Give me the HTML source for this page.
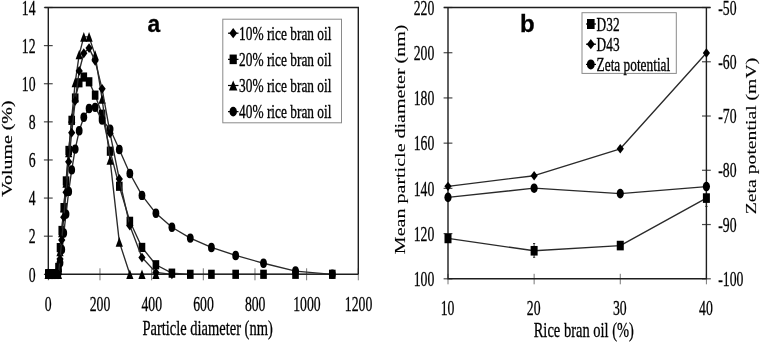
<!DOCTYPE html>
<html><head><meta charset="utf-8"><style>
html,body{margin:0;padding:0;background:#fff;width:761px;height:342px;overflow:hidden}
svg{display:block;will-change:transform;filter:blur(0.35px)}
</style></head><body>
<svg width="761" height="342" viewBox="0 0 761 342">
<rect width="761" height="342" fill="#fff"/>
<path d="M43.90,274.30H52.70" stroke="#4a4a4a" stroke-width="1.2"/>
<path d="M43.90,236.19H52.70" stroke="#4a4a4a" stroke-width="1.2"/>
<path d="M43.90,198.07H52.70" stroke="#4a4a4a" stroke-width="1.2"/>
<path d="M43.90,159.96H52.70" stroke="#4a4a4a" stroke-width="1.2"/>
<path d="M43.90,121.84H52.70" stroke="#4a4a4a" stroke-width="1.2"/>
<path d="M43.90,83.73H52.70" stroke="#4a4a4a" stroke-width="1.2"/>
<path d="M43.90,45.61H52.70" stroke="#4a4a4a" stroke-width="1.2"/>
<path d="M43.90,7.50H52.70" stroke="#4a4a4a" stroke-width="1.2"/>
<path d="M48.30,268.30V280.30" stroke="#777" stroke-width="1"/>
<path d="M99.97,268.30V280.30" stroke="#777" stroke-width="1"/>
<path d="M151.63,268.30V280.30" stroke="#777" stroke-width="1"/>
<path d="M203.30,268.30V280.30" stroke="#777" stroke-width="1"/>
<path d="M254.97,268.30V280.30" stroke="#777" stroke-width="1"/>
<path d="M306.63,268.30V280.30" stroke="#777" stroke-width="1"/>
<path d="M358.30,268.30V280.30" stroke="#777" stroke-width="1"/>
<path d="M443.60,278.80H452.40" stroke="#4a4a4a" stroke-width="1.2"/>
<path d="M443.60,233.58H452.40" stroke="#4a4a4a" stroke-width="1.2"/>
<path d="M443.60,188.37H452.40" stroke="#4a4a4a" stroke-width="1.2"/>
<path d="M443.60,143.15H452.40" stroke="#4a4a4a" stroke-width="1.2"/>
<path d="M443.60,97.93H452.40" stroke="#4a4a4a" stroke-width="1.2"/>
<path d="M443.60,52.72H452.40" stroke="#4a4a4a" stroke-width="1.2"/>
<path d="M443.60,7.50H452.40" stroke="#4a4a4a" stroke-width="1.2"/>
<path d="M702.00,7.50H710.80" stroke="#4a4a4a" stroke-width="1.2"/>
<path d="M702.00,61.76H710.80" stroke="#4a4a4a" stroke-width="1.2"/>
<path d="M702.00,116.02H710.80" stroke="#4a4a4a" stroke-width="1.2"/>
<path d="M702.00,170.28H710.80" stroke="#4a4a4a" stroke-width="1.2"/>
<path d="M702.00,224.54H710.80" stroke="#4a4a4a" stroke-width="1.2"/>
<path d="M702.00,278.80H710.80" stroke="#4a4a4a" stroke-width="1.2"/>
<path d="M448.00,273.80V284.30" stroke="#777" stroke-width="1"/>
<path d="M534.13,273.80V284.30" stroke="#777" stroke-width="1"/>
<path d="M620.27,273.80V284.30" stroke="#777" stroke-width="1"/>
<path d="M706.40,273.80V284.30" stroke="#777" stroke-width="1"/>
<path d="M44.70,7.5H358.3V274.3" fill="none" stroke="#1e1e1e" stroke-width="1.4"/>
<path d="M48.3,7.5V274.3H358.3" fill="none" stroke="#1e1e1e" stroke-width="1.4"/>
<text transform="translate(35.60,281.50) scale(0.67,1)" font-family="Liberation Serif" font-size="20.5" font-weight="400" text-anchor="end" fill="#000" stroke="#000" stroke-width="0.3">0</text>
<text transform="translate(35.60,243.39) scale(0.67,1)" font-family="Liberation Serif" font-size="20.5" font-weight="400" text-anchor="end" fill="#000" stroke="#000" stroke-width="0.3">2</text>
<text transform="translate(35.60,205.27) scale(0.67,1)" font-family="Liberation Serif" font-size="20.5" font-weight="400" text-anchor="end" fill="#000" stroke="#000" stroke-width="0.3">4</text>
<text transform="translate(35.60,167.16) scale(0.67,1)" font-family="Liberation Serif" font-size="20.5" font-weight="400" text-anchor="end" fill="#000" stroke="#000" stroke-width="0.3">6</text>
<text transform="translate(35.60,129.04) scale(0.67,1)" font-family="Liberation Serif" font-size="20.5" font-weight="400" text-anchor="end" fill="#000" stroke="#000" stroke-width="0.3">8</text>
<text transform="translate(35.60,90.93) scale(0.67,1)" font-family="Liberation Serif" font-size="20.5" font-weight="400" text-anchor="end" fill="#000" stroke="#000" stroke-width="0.3">10</text>
<text transform="translate(35.60,52.81) scale(0.67,1)" font-family="Liberation Serif" font-size="20.5" font-weight="400" text-anchor="end" fill="#000" stroke="#000" stroke-width="0.3">12</text>
<text transform="translate(35.60,14.70) scale(0.67,1)" font-family="Liberation Serif" font-size="20.5" font-weight="400" text-anchor="end" fill="#000" stroke="#000" stroke-width="0.3">14</text>
<text transform="translate(48.30,310.80) scale(0.67,1)" font-family="Liberation Serif" font-size="20.5" font-weight="400" text-anchor="middle" fill="#000" stroke="#000" stroke-width="0.3">0</text>
<text transform="translate(100.02,310.80) scale(0.67,1)" font-family="Liberation Serif" font-size="20.5" font-weight="400" text-anchor="middle" fill="#000" stroke="#000" stroke-width="0.3">200</text>
<text transform="translate(151.73,310.80) scale(0.67,1)" font-family="Liberation Serif" font-size="20.5" font-weight="400" text-anchor="middle" fill="#000" stroke="#000" stroke-width="0.3">400</text>
<text transform="translate(203.45,310.80) scale(0.67,1)" font-family="Liberation Serif" font-size="20.5" font-weight="400" text-anchor="middle" fill="#000" stroke="#000" stroke-width="0.3">600</text>
<text transform="translate(255.17,310.80) scale(0.67,1)" font-family="Liberation Serif" font-size="20.5" font-weight="400" text-anchor="middle" fill="#000" stroke="#000" stroke-width="0.3">800</text>
<text transform="translate(306.88,310.80) scale(0.67,1)" font-family="Liberation Serif" font-size="20.5" font-weight="400" text-anchor="middle" fill="#000" stroke="#000" stroke-width="0.3">1000</text>
<text transform="translate(358.60,310.80) scale(0.67,1)" font-family="Liberation Serif" font-size="20.5" font-weight="400" text-anchor="middle" fill="#000" stroke="#000" stroke-width="0.3">1200</text>
<text transform="translate(207.60,335.20) scale(0.707,1)" font-family="Liberation Serif" font-size="20.5" font-weight="400" text-anchor="middle" fill="#000" stroke="#000" stroke-width="0.3">Particle diameter (nm)</text>
<text transform="translate(12.40,148.60) scale(0.78,1) rotate(-90)" font-family="Liberation Serif" font-size="19.9" font-weight="400" text-anchor="middle" fill="#000" stroke="#000" stroke-width="0.25">Volume (%)</text>
<text transform="translate(147.50,31.60) scale(0.95,1)" font-family="Liberation Sans" font-size="24" font-weight="700" text-anchor="start" fill="#000" stroke="#000" stroke-width="0.3">a</text>
<polyline fill="none" stroke="#2a2a2a" stroke-width="1.35" stroke-linejoin="round" points="48.34,274.30 48.36,274.30 48.39,274.30 48.44,274.30 48.51,274.30 48.62,274.30 48.78,274.30 49.03,274.30 49.41,274.30 49.98,274.30 50.85,274.30 51.23,274.30 51.66,274.30 52.16,274.30 52.74,274.30 53.40,274.30 54.16,274.30 55.03,274.30 56.03,274.30 57.17,274.30 58.49,267.44 60.01,247.62 61.75,230.47 63.75,207.60 66.05,180.92 68.69,150.43 71.72,120.32 75.20,98.02 79.20,82.78 83.80,77.06 89.08,81.82 95.14,95.16 102.11,114.22 110.11,151.19 119.30,186.26 129.85,221.32 141.98,247.43 155.91,264.77 171.91,273.16 190.29,274.30 211.41,274.30 235.66,274.30 263.52,274.30 295.52,274.30 332.29,274.30"/><rect x="45.04" y="269.70" width="6.60" height="9.20"/><rect x="45.06" y="269.70" width="6.60" height="9.20"/><rect x="45.09" y="269.70" width="6.60" height="9.20"/><rect x="45.14" y="269.70" width="6.60" height="9.20"/><rect x="45.21" y="269.70" width="6.60" height="9.20"/><rect x="45.32" y="269.70" width="6.60" height="9.20"/><rect x="45.48" y="269.70" width="6.60" height="9.20"/><rect x="45.73" y="269.70" width="6.60" height="9.20"/><rect x="46.11" y="269.70" width="6.60" height="9.20"/><rect x="46.68" y="269.70" width="6.60" height="9.20"/><rect x="47.55" y="269.70" width="6.60" height="9.20"/><rect x="47.93" y="269.70" width="6.60" height="9.20"/><rect x="48.36" y="269.70" width="6.60" height="9.20"/><rect x="48.86" y="269.70" width="6.60" height="9.20"/><rect x="49.44" y="269.70" width="6.60" height="9.20"/><rect x="50.10" y="269.70" width="6.60" height="9.20"/><rect x="50.86" y="269.70" width="6.60" height="9.20"/><rect x="51.73" y="269.70" width="6.60" height="9.20"/><rect x="52.73" y="269.70" width="6.60" height="9.20"/><rect x="53.87" y="269.70" width="6.60" height="9.20"/><rect x="55.19" y="262.84" width="6.60" height="9.20"/><rect x="56.71" y="243.02" width="6.60" height="9.20"/><rect x="58.45" y="225.87" width="6.60" height="9.20"/><rect x="60.45" y="203.00" width="6.60" height="9.20"/><rect x="62.75" y="176.32" width="6.60" height="9.20"/><rect x="65.39" y="145.83" width="6.60" height="9.20"/><rect x="68.42" y="115.72" width="6.60" height="9.20"/><rect x="71.90" y="93.42" width="6.60" height="9.20"/><rect x="75.90" y="78.18" width="6.60" height="9.20"/><rect x="80.50" y="72.46" width="6.60" height="9.20"/><rect x="85.78" y="77.22" width="6.60" height="9.20"/><rect x="91.84" y="90.56" width="6.60" height="9.20"/><rect x="98.81" y="109.62" width="6.60" height="9.20"/><rect x="106.81" y="146.59" width="6.60" height="9.20"/><rect x="116.00" y="181.66" width="6.60" height="9.20"/><rect x="126.55" y="216.72" width="6.60" height="9.20"/><rect x="138.68" y="242.83" width="6.60" height="9.20"/><rect x="152.61" y="260.17" width="6.60" height="9.20"/><rect x="168.61" y="268.56" width="6.60" height="9.20"/><rect x="186.99" y="269.70" width="6.60" height="9.20"/><rect x="208.11" y="269.70" width="6.60" height="9.20"/><rect x="232.36" y="269.70" width="6.60" height="9.20"/><rect x="260.22" y="269.70" width="6.60" height="9.20"/><rect x="292.22" y="269.70" width="6.60" height="9.20"/><rect x="328.99" y="269.70" width="6.60" height="9.20"/>
<polyline fill="none" stroke="#2a2a2a" stroke-width="1.35" stroke-linejoin="round" points="48.34,274.30 48.36,274.30 48.39,274.30 48.44,274.30 48.51,274.30 48.62,274.30 48.78,274.30 49.03,274.30 49.41,274.30 49.98,274.30 50.85,274.30 51.23,274.30 51.66,274.30 52.16,274.30 52.74,274.30 53.40,274.30 54.16,274.30 55.03,274.30 56.03,274.30 57.17,274.30 58.49,274.30 60.01,251.43 61.75,232.37 63.75,207.60 66.05,182.83 68.69,152.33 71.72,118.03 75.20,82.39 79.20,54.57 83.80,36.85 89.08,36.85 95.14,55.14 102.11,98.97 110.11,159.96 119.30,241.90 129.85,274.30 141.98,274.30 155.91,274.30"/><polygon points="48.34,269.50 51.94,279.10 44.74,279.10"/><polygon points="48.36,269.50 51.96,279.10 44.76,279.10"/><polygon points="48.39,269.50 51.99,279.10 44.79,279.10"/><polygon points="48.44,269.50 52.04,279.10 44.84,279.10"/><polygon points="48.51,269.50 52.11,279.10 44.91,279.10"/><polygon points="48.62,269.50 52.22,279.10 45.02,279.10"/><polygon points="48.78,269.50 52.38,279.10 45.18,279.10"/><polygon points="49.03,269.50 52.63,279.10 45.43,279.10"/><polygon points="49.41,269.50 53.01,279.10 45.81,279.10"/><polygon points="49.98,269.50 53.58,279.10 46.38,279.10"/><polygon points="50.85,269.50 54.45,279.10 47.25,279.10"/><polygon points="51.23,269.50 54.83,279.10 47.63,279.10"/><polygon points="51.66,269.50 55.26,279.10 48.06,279.10"/><polygon points="52.16,269.50 55.76,279.10 48.56,279.10"/><polygon points="52.74,269.50 56.34,279.10 49.14,279.10"/><polygon points="53.40,269.50 57.00,279.10 49.80,279.10"/><polygon points="54.16,269.50 57.76,279.10 50.56,279.10"/><polygon points="55.03,269.50 58.63,279.10 51.43,279.10"/><polygon points="56.03,269.50 59.63,279.10 52.43,279.10"/><polygon points="57.17,269.50 60.77,279.10 53.57,279.10"/><polygon points="58.49,269.50 62.09,279.10 54.89,279.10"/><polygon points="60.01,246.63 63.61,256.23 56.41,256.23"/><polygon points="61.75,227.57 65.35,237.17 58.15,237.17"/><polygon points="63.75,202.80 67.35,212.40 60.15,212.40"/><polygon points="66.05,178.03 69.65,187.63 62.45,187.63"/><polygon points="68.69,147.53 72.29,157.13 65.09,157.13"/><polygon points="71.72,113.23 75.32,122.83 68.12,122.83"/><polygon points="75.20,77.59 78.80,87.19 71.60,87.19"/><polygon points="79.20,49.77 82.80,59.37 75.60,59.37"/><polygon points="83.80,32.05 87.40,41.65 80.20,41.65"/><polygon points="89.08,32.05 92.68,41.65 85.48,41.65"/><polygon points="95.14,50.34 98.74,59.94 91.54,59.94"/><polygon points="102.11,94.17 105.71,103.77 98.51,103.77"/><polygon points="110.11,155.16 113.71,164.76 106.51,164.76"/><polygon points="119.30,237.10 122.90,246.70 115.70,246.70"/><polygon points="129.85,269.50 133.45,279.10 126.25,279.10"/><polygon points="141.98,269.50 145.58,279.10 138.38,279.10"/><polygon points="155.91,269.50 159.51,279.10 152.31,279.10"/>
<polyline fill="none" stroke="#2a2a2a" stroke-width="1.35" stroke-linejoin="round" points="48.34,274.30 48.36,274.30 48.39,274.30 48.44,274.30 48.51,274.30 48.62,274.30 48.78,274.30 49.03,274.30 49.41,274.30 49.98,274.30 50.85,274.30 51.23,274.30 51.66,274.30 52.16,274.30 52.74,274.30 53.40,274.30 54.16,274.30 55.03,274.30 56.03,274.30 57.17,274.30 58.49,271.44 60.01,262.87 61.75,249.53 63.75,232.95 66.05,214.08 68.69,191.40 71.72,169.87 75.20,149.09 79.20,130.80 83.80,117.27 89.08,108.50 95.14,107.36 102.11,119.94 110.11,129.08 119.30,149.48 129.85,173.49 141.98,195.40 155.91,213.32 171.91,227.23 190.29,238.09 211.41,247.43 235.66,255.43 263.52,263.25 295.52,271.06 332.29,274.30"/><ellipse cx="48.34" cy="274.30" rx="3.40" ry="4.70"/><ellipse cx="48.36" cy="274.30" rx="3.40" ry="4.70"/><ellipse cx="48.39" cy="274.30" rx="3.40" ry="4.70"/><ellipse cx="48.44" cy="274.30" rx="3.40" ry="4.70"/><ellipse cx="48.51" cy="274.30" rx="3.40" ry="4.70"/><ellipse cx="48.62" cy="274.30" rx="3.40" ry="4.70"/><ellipse cx="48.78" cy="274.30" rx="3.40" ry="4.70"/><ellipse cx="49.03" cy="274.30" rx="3.40" ry="4.70"/><ellipse cx="49.41" cy="274.30" rx="3.40" ry="4.70"/><ellipse cx="49.98" cy="274.30" rx="3.40" ry="4.70"/><ellipse cx="50.85" cy="274.30" rx="3.40" ry="4.70"/><ellipse cx="51.23" cy="274.30" rx="3.40" ry="4.70"/><ellipse cx="51.66" cy="274.30" rx="3.40" ry="4.70"/><ellipse cx="52.16" cy="274.30" rx="3.40" ry="4.70"/><ellipse cx="52.74" cy="274.30" rx="3.40" ry="4.70"/><ellipse cx="53.40" cy="274.30" rx="3.40" ry="4.70"/><ellipse cx="54.16" cy="274.30" rx="3.40" ry="4.70"/><ellipse cx="55.03" cy="274.30" rx="3.40" ry="4.70"/><ellipse cx="56.03" cy="274.30" rx="3.40" ry="4.70"/><ellipse cx="57.17" cy="274.30" rx="3.40" ry="4.70"/><ellipse cx="58.49" cy="271.44" rx="3.40" ry="4.70"/><ellipse cx="60.01" cy="262.87" rx="3.40" ry="4.70"/><ellipse cx="61.75" cy="249.53" rx="3.40" ry="4.70"/><ellipse cx="63.75" cy="232.95" rx="3.40" ry="4.70"/><ellipse cx="66.05" cy="214.08" rx="3.40" ry="4.70"/><ellipse cx="68.69" cy="191.40" rx="3.40" ry="4.70"/><ellipse cx="71.72" cy="169.87" rx="3.40" ry="4.70"/><ellipse cx="75.20" cy="149.09" rx="3.40" ry="4.70"/><ellipse cx="79.20" cy="130.80" rx="3.40" ry="4.70"/><ellipse cx="83.80" cy="117.27" rx="3.40" ry="4.70"/><ellipse cx="89.08" cy="108.50" rx="3.40" ry="4.70"/><ellipse cx="95.14" cy="107.36" rx="3.40" ry="4.70"/><ellipse cx="102.11" cy="119.94" rx="3.40" ry="4.70"/><ellipse cx="110.11" cy="129.08" rx="3.40" ry="4.70"/><ellipse cx="119.30" cy="149.48" rx="3.40" ry="4.70"/><ellipse cx="129.85" cy="173.49" rx="3.40" ry="4.70"/><ellipse cx="141.98" cy="195.40" rx="3.40" ry="4.70"/><ellipse cx="155.91" cy="213.32" rx="3.40" ry="4.70"/><ellipse cx="171.91" cy="227.23" rx="3.40" ry="4.70"/><ellipse cx="190.29" cy="238.09" rx="3.40" ry="4.70"/><ellipse cx="211.41" cy="247.43" rx="3.40" ry="4.70"/><ellipse cx="235.66" cy="255.43" rx="3.40" ry="4.70"/><ellipse cx="263.52" cy="263.25" rx="3.40" ry="4.70"/><ellipse cx="295.52" cy="271.06" rx="3.40" ry="4.70"/><ellipse cx="332.29" cy="274.30" rx="3.40" ry="4.70"/>
<polyline fill="none" stroke="#2a2a2a" stroke-width="1.35" stroke-linejoin="round" points="48.34,274.30 48.36,274.30 48.39,274.30 48.44,274.30 48.51,274.30 48.62,274.30 48.78,274.30 49.03,274.30 49.41,274.30 49.98,274.30 50.85,274.30 51.23,274.30 51.66,274.30 52.16,274.30 52.74,274.30 53.40,274.30 54.16,274.30 55.03,274.30 56.03,274.30 57.17,274.30 58.49,274.30 60.01,259.05 61.75,240.00 63.75,217.13 66.05,192.35 68.69,161.86 71.72,132.71 75.20,100.88 79.20,70.96 83.80,53.24 89.08,48.09 95.14,60.86 102.11,88.87 110.11,133.28 119.30,179.01 129.85,225.70 141.98,257.53 155.91,272.39 171.91,274.30"/><polygon points="48.34,269.40 51.94,274.30 48.34,279.20 44.74,274.30"/><polygon points="48.36,269.40 51.96,274.30 48.36,279.20 44.76,274.30"/><polygon points="48.39,269.40 51.99,274.30 48.39,279.20 44.79,274.30"/><polygon points="48.44,269.40 52.04,274.30 48.44,279.20 44.84,274.30"/><polygon points="48.51,269.40 52.11,274.30 48.51,279.20 44.91,274.30"/><polygon points="48.62,269.40 52.22,274.30 48.62,279.20 45.02,274.30"/><polygon points="48.78,269.40 52.38,274.30 48.78,279.20 45.18,274.30"/><polygon points="49.03,269.40 52.63,274.30 49.03,279.20 45.43,274.30"/><polygon points="49.41,269.40 53.01,274.30 49.41,279.20 45.81,274.30"/><polygon points="49.98,269.40 53.58,274.30 49.98,279.20 46.38,274.30"/><polygon points="50.85,269.40 54.45,274.30 50.85,279.20 47.25,274.30"/><polygon points="51.23,269.40 54.83,274.30 51.23,279.20 47.63,274.30"/><polygon points="51.66,269.40 55.26,274.30 51.66,279.20 48.06,274.30"/><polygon points="52.16,269.40 55.76,274.30 52.16,279.20 48.56,274.30"/><polygon points="52.74,269.40 56.34,274.30 52.74,279.20 49.14,274.30"/><polygon points="53.40,269.40 57.00,274.30 53.40,279.20 49.80,274.30"/><polygon points="54.16,269.40 57.76,274.30 54.16,279.20 50.56,274.30"/><polygon points="55.03,269.40 58.63,274.30 55.03,279.20 51.43,274.30"/><polygon points="56.03,269.40 59.63,274.30 56.03,279.20 52.43,274.30"/><polygon points="57.17,269.40 60.77,274.30 57.17,279.20 53.57,274.30"/><polygon points="58.49,269.40 62.09,274.30 58.49,279.20 54.89,274.30"/><polygon points="60.01,254.15 63.61,259.05 60.01,263.95 56.41,259.05"/><polygon points="61.75,235.10 65.35,240.00 61.75,244.90 58.15,240.00"/><polygon points="63.75,212.23 67.35,217.13 63.75,222.03 60.15,217.13"/><polygon points="66.05,187.45 69.65,192.35 66.05,197.25 62.45,192.35"/><polygon points="68.69,156.96 72.29,161.86 68.69,166.76 65.09,161.86"/><polygon points="71.72,127.81 75.32,132.71 71.72,137.61 68.12,132.71"/><polygon points="75.20,95.98 78.80,100.88 75.20,105.78 71.60,100.88"/><polygon points="79.20,66.06 82.80,70.96 79.20,75.86 75.60,70.96"/><polygon points="83.80,48.34 87.40,53.24 83.80,58.14 80.20,53.24"/><polygon points="89.08,43.19 92.68,48.09 89.08,52.99 85.48,48.09"/><polygon points="95.14,55.96 98.74,60.86 95.14,65.76 91.54,60.86"/><polygon points="102.11,83.97 105.71,88.87 102.11,93.77 98.51,88.87"/><polygon points="110.11,128.38 113.71,133.28 110.11,138.18 106.51,133.28"/><polygon points="119.30,174.11 122.90,179.01 119.30,183.91 115.70,179.01"/><polygon points="129.85,220.80 133.45,225.70 129.85,230.60 126.25,225.70"/><polygon points="141.98,252.63 145.58,257.53 141.98,262.43 138.38,257.53"/><polygon points="155.91,267.49 159.51,272.39 155.91,277.29 152.31,272.39"/><polygon points="171.91,269.40 175.51,274.30 171.91,279.20 168.31,274.30"/>
<rect x="222.8" y="19.2" width="118.7" height="103.6" fill="#fff" stroke="#8a8a8a" stroke-width="1"/>
<path d="M228,33.20H238.5" stroke="#000" stroke-width="1.2"/>
<polygon points="233.20,28.10 237.10,33.20 233.20,38.30 229.30,33.20"/>
<text transform="translate(239.10,39.60) scale(0.675,1)" font-family="Liberation Serif" font-size="19.8" font-weight="400" text-anchor="start" fill="#000" stroke="#000" stroke-width="0.35">10% rice bran oil</text>
<path d="M228,59.35H238.5" stroke="#000" stroke-width="1.2"/>
<rect x="229.60" y="54.55" width="7.20" height="9.60"/>
<text transform="translate(239.10,65.75) scale(0.675,1)" font-family="Liberation Serif" font-size="19.8" font-weight="400" text-anchor="start" fill="#000" stroke="#000" stroke-width="0.35">20% rice bran oil</text>
<path d="M228,85.50H238.5" stroke="#000" stroke-width="1.2"/>
<polygon points="233.20,80.50 237.40,90.50 229.00,90.50"/>
<text transform="translate(239.10,91.90) scale(0.675,1)" font-family="Liberation Serif" font-size="19.8" font-weight="400" text-anchor="start" fill="#000" stroke="#000" stroke-width="0.35">30% rice bran oil</text>
<path d="M228,111.65H238.5" stroke="#000" stroke-width="1.2"/>
<ellipse cx="233.20" cy="111.65" rx="3.70" ry="4.90"/>
<text transform="translate(239.10,118.05) scale(0.675,1)" font-family="Liberation Serif" font-size="19.8" font-weight="400" text-anchor="start" fill="#000" stroke="#000" stroke-width="0.35">40% rice bran oil</text>
<path d="M443.80,7.5H710.40" fill="none" stroke="#1e1e1e" stroke-width="1.4"/>
<path d="M448.0,7.5V278.8H706.4V7.5" fill="none" stroke="#1e1e1e" stroke-width="1.4"/>
<text transform="translate(434.30,286.10) scale(0.67,1)" font-family="Liberation Serif" font-size="20.5" font-weight="400" text-anchor="end" fill="#000" stroke="#000" stroke-width="0.3">100</text>
<text transform="translate(434.30,240.88) scale(0.67,1)" font-family="Liberation Serif" font-size="20.5" font-weight="400" text-anchor="end" fill="#000" stroke="#000" stroke-width="0.3">120</text>
<text transform="translate(434.30,195.67) scale(0.67,1)" font-family="Liberation Serif" font-size="20.5" font-weight="400" text-anchor="end" fill="#000" stroke="#000" stroke-width="0.3">140</text>
<text transform="translate(434.30,150.45) scale(0.67,1)" font-family="Liberation Serif" font-size="20.5" font-weight="400" text-anchor="end" fill="#000" stroke="#000" stroke-width="0.3">160</text>
<text transform="translate(434.30,105.23) scale(0.67,1)" font-family="Liberation Serif" font-size="20.5" font-weight="400" text-anchor="end" fill="#000" stroke="#000" stroke-width="0.3">180</text>
<text transform="translate(434.30,60.02) scale(0.67,1)" font-family="Liberation Serif" font-size="20.5" font-weight="400" text-anchor="end" fill="#000" stroke="#000" stroke-width="0.3">200</text>
<text transform="translate(434.30,14.80) scale(0.67,1)" font-family="Liberation Serif" font-size="20.5" font-weight="400" text-anchor="end" fill="#000" stroke="#000" stroke-width="0.3">220</text>
<text transform="translate(718.30,14.60) scale(0.67,1)" font-family="Liberation Serif" font-size="20.5" font-weight="400" text-anchor="start" fill="#000" stroke="#000" stroke-width="0.3">-50</text>
<text transform="translate(718.30,68.86) scale(0.67,1)" font-family="Liberation Serif" font-size="20.5" font-weight="400" text-anchor="start" fill="#000" stroke="#000" stroke-width="0.3">-60</text>
<text transform="translate(718.30,123.12) scale(0.67,1)" font-family="Liberation Serif" font-size="20.5" font-weight="400" text-anchor="start" fill="#000" stroke="#000" stroke-width="0.3">-70</text>
<text transform="translate(718.30,177.38) scale(0.67,1)" font-family="Liberation Serif" font-size="20.5" font-weight="400" text-anchor="start" fill="#000" stroke="#000" stroke-width="0.3">-80</text>
<text transform="translate(718.30,231.64) scale(0.67,1)" font-family="Liberation Serif" font-size="20.5" font-weight="400" text-anchor="start" fill="#000" stroke="#000" stroke-width="0.3">-90</text>
<text transform="translate(718.30,285.90) scale(0.67,1)" font-family="Liberation Serif" font-size="20.5" font-weight="400" text-anchor="start" fill="#000" stroke="#000" stroke-width="0.3">-100</text>
<text transform="translate(447.50,314.90) scale(0.67,1)" font-family="Liberation Serif" font-size="20.5" font-weight="400" text-anchor="middle" fill="#000" stroke="#000" stroke-width="0.3">10</text>
<text transform="translate(533.63,314.90) scale(0.67,1)" font-family="Liberation Serif" font-size="20.5" font-weight="400" text-anchor="middle" fill="#000" stroke="#000" stroke-width="0.3">20</text>
<text transform="translate(619.77,314.90) scale(0.67,1)" font-family="Liberation Serif" font-size="20.5" font-weight="400" text-anchor="middle" fill="#000" stroke="#000" stroke-width="0.3">30</text>
<text transform="translate(705.90,314.90) scale(0.67,1)" font-family="Liberation Serif" font-size="20.5" font-weight="400" text-anchor="middle" fill="#000" stroke="#000" stroke-width="0.3">40</text>
<text transform="translate(583.80,336.60) scale(0.707,1)" font-family="Liberation Serif" font-size="20.5" font-weight="400" text-anchor="middle" fill="#000" stroke="#000" stroke-width="0.3">Rice bran oil (%)</text>
<text transform="translate(404.60,139.30) scale(0.77,1) rotate(-90)" font-family="Liberation Serif" font-size="20.05" font-weight="400" text-anchor="middle" fill="#000" stroke="#000" stroke-width="0.15">Mean particle diameter (nm)</text>
<text transform="translate(756.40,136.00) scale(0.77,1) rotate(-90)" font-family="Liberation Serif" font-size="19.7" font-weight="400" text-anchor="middle" fill="#000" stroke="#000" stroke-width="0.15">Zeta potential (mV)</text>
<text transform="translate(520.00,31.60) scale(1.0,1)" font-family="Liberation Sans" font-size="24" font-weight="700" text-anchor="start" fill="#000" stroke="#000" stroke-width="0.3">b</text>
<path d="M534.1,243.5V257.3M533,243.5h2.2M533,257.3h2.2M706.4,189V206.4M705.2,206.4h2.4" stroke="#222" stroke-width="0.9"/>
<polyline fill="none" stroke="#2a2a2a" stroke-width="1.35" stroke-linejoin="round" points="448.00,238.44 534.13,250.77 620.27,245.57 706.40,198.09"/><rect x="444.50" y="233.64" width="7.00" height="9.60"/><rect x="530.63" y="245.97" width="7.00" height="9.60"/><rect x="616.77" y="240.77" width="7.00" height="9.60"/><rect x="702.90" y="193.29" width="7.00" height="9.60"/>
<polyline fill="none" stroke="#2a2a2a" stroke-width="1.35" stroke-linejoin="round" points="448.00,186.33 534.13,175.71 620.27,148.80 706.40,52.94"/><polygon points="448.00,181.63 451.60,186.33 448.00,191.03 444.40,186.33"/><polygon points="534.13,171.01 537.73,175.71 534.13,180.41 530.53,175.71"/><polygon points="620.27,144.10 623.87,148.80 620.27,153.50 616.67,148.80"/><polygon points="706.40,48.24 710.00,52.94 706.40,57.64 702.80,52.94"/>
<polyline fill="none" stroke="#2a2a2a" stroke-width="1.35" stroke-linejoin="round" points="448.00,197.41 534.13,188.19 620.27,193.61 706.40,186.56"/><ellipse cx="448.00" cy="197.41" rx="3.60" ry="4.80"/><ellipse cx="534.13" cy="188.19" rx="3.60" ry="4.80"/><ellipse cx="620.27" cy="193.61" rx="3.60" ry="4.80"/><ellipse cx="706.40" cy="186.56" rx="3.60" ry="4.80"/>
<rect x="582" y="12.7" width="94.3" height="60.7" fill="#fff" stroke="#8a8a8a" stroke-width="1"/>
<path d="M586,24.00H596" stroke="#000" stroke-width="1.2"/>
<rect x="587.00" y="19.00" width="7.60" height="10.00"/>
<text transform="translate(596.60,30.50) scale(0.68,1)" font-family="Liberation Serif" font-size="19.6" font-weight="400" text-anchor="start" fill="#000" stroke="#000" stroke-width="0.35">D32</text>
<path d="M586,44.20H596" stroke="#000" stroke-width="1.2"/>
<polygon points="590.80,39.10 594.80,44.20 590.80,49.30 586.80,44.20"/>
<text transform="translate(596.60,50.70) scale(0.68,1)" font-family="Liberation Serif" font-size="19.6" font-weight="400" text-anchor="start" fill="#000" stroke="#000" stroke-width="0.35">D43</text>
<path d="M586,64.40H596" stroke="#000" stroke-width="1.2"/>
<ellipse cx="590.80" cy="64.40" rx="3.90" ry="5.00"/>
<text transform="translate(596.60,70.90) scale(0.68,1)" font-family="Liberation Serif" font-size="19.6" font-weight="400" text-anchor="start" fill="#000" stroke="#000" stroke-width="0.35">Zeta potential</text>
</svg>
</body></html>
